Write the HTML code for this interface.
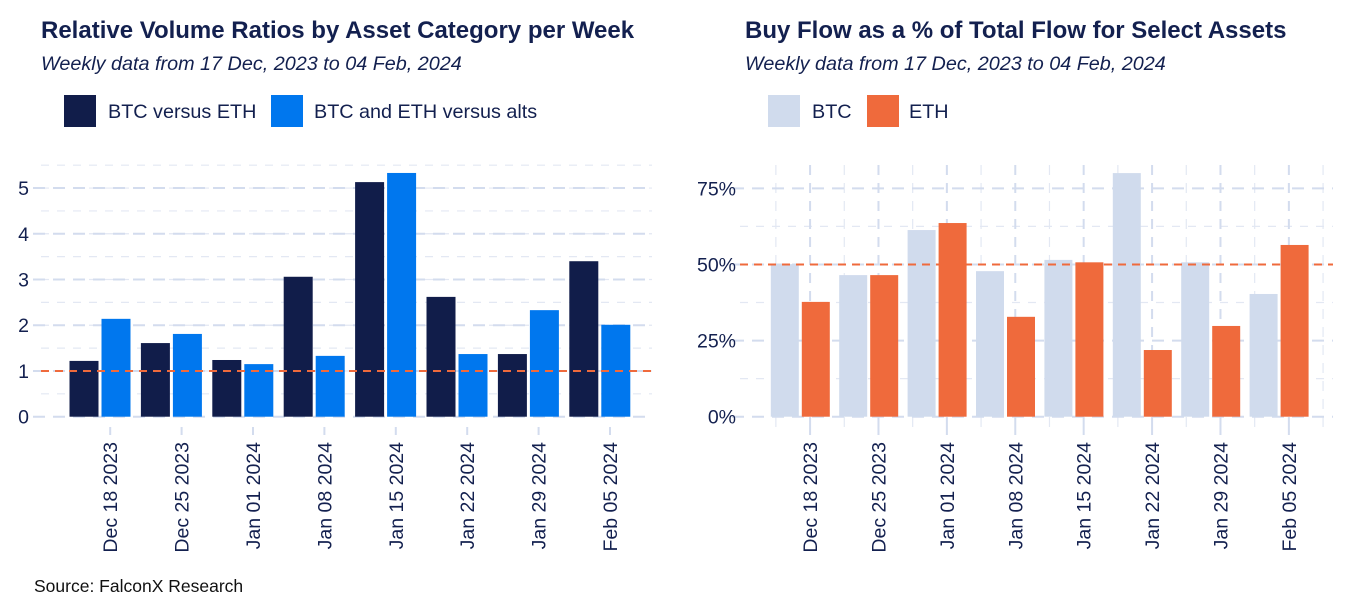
<!DOCTYPE html>
<html><head><meta charset="utf-8"><style>
html,body{margin:0;padding:0;background:#fff;}
svg{display:block;font-family:"Liberation Sans",Arial,sans-serif;}
</style></head><body>
<svg id="c" width="1350" height="600" viewBox="0 0 1350 600" xmlns="http://www.w3.org/2000/svg">
<text x="41" y="38" font-size="24" font-weight="bold" fill="#13204f">Relative Volume Ratios by Asset Category per Week</text>
<text x="41" y="70" font-size="19.8" font-style="italic" fill="#13204f">Weekly data from 17 Dec, 2023 to 04 Feb, 2024</text>
<rect x="64" y="95" width="32" height="32" fill="#111d4a"/>
<text x="108" y="118" font-size="19.8" fill="#13204f">BTC versus ETH</text>
<rect x="271" y="95" width="32" height="32" fill="#0077ee"/>
<text x="314" y="118" font-size="19.8" fill="#13204f">BTC and ETH versus alts</text>

<text x="745" y="38" font-size="24" font-weight="bold" fill="#13204f">Buy Flow as a % of Total Flow for Select Assets</text>
<text x="745" y="70" font-size="19.8" font-style="italic" fill="#13204f">Weekly data from 17 Dec, 2023 to 04 Feb, 2024</text>
<rect x="768" y="95" width="32" height="32" fill="#d0dbed"/>
<text x="812" y="118" font-size="19.8" fill="#13204f">BTC</text>
<rect x="867" y="95" width="32" height="32" fill="#ef6a3c"/>
<text x="909" y="118" font-size="19.8" fill="#13204f">ETH</text>

<text x="34" y="592" font-size="17.5" fill="#111">Source: FalconX Research</text>
<g id="left"></g>
<g id="right"></g>
</svg>
<script>
const tickLabels = ["Dec 18 2023","Dec 25 2023","Jan 01 2024","Jan 08 2024","Jan 15 2024","Jan 22 2024","Jan 29 2024","Feb 05 2024"];
const btcVsEth = [1.22,1.61,1.24,3.06,5.13,2.62,1.37,3.40];
const btcEthVsAlts = [2.14,1.81,1.15,1.33,5.33,1.37,2.33,2.01];
const leftTicks = [0,1,2,3,4,5];
const btcBuy = [50.1,46.5,61.3,47.8,51.5,80.0,50.7,40.3];
const ethBuy = [37.7,46.5,63.6,32.8,50.7,21.9,29.8,56.4];
const rightTicks = [0,25,50,75];

const NS="http://www.w3.org/2000/svg";
function mk(parent,tag,attrs){const e=document.createElementNS(NS,tag);for(const k in attrs)e.setAttribute(k,attrs[k]);parent.appendChild(e);return e;}

function drawChart(g,o){
  const y0=416.7;
  const y=v=>y0-v*o.ppu;
  const xc=i=>o.c0+i*o.step;
  for(let v=o.minor;v<=o.maxGrid;v+=o.major){
    const l=mk(g,'line',{x1:o.gx0,x2:o.gx1,y1:y(v),y2:y(v),stroke:'#e3e8f3','stroke-width':1.2,'stroke-dasharray':'8 8'});
    
    
  }
  if(o.vgrid){
    for(let i=0;i<8;i++){
      const xt=xc(i)+o.step/7;
      const l=mk(g,'line',{x1:xt,x2:xt,y1:165,y2:428,stroke:'#d3dcee','stroke-width':2,'stroke-dasharray':'10 8'});
      
      
      const m=xt-o.step/2;
      const l2=mk(g,'line',{x1:m,x2:m,y1:165,y2:428,stroke:'#e3e8f3','stroke-width':1.2,'stroke-dasharray':'10 8'});
      
      
    }
    const m=xc(8)+o.step/7-o.step/2;
    const l3=mk(g,'line',{x1:m,x2:m,y1:165,y2:428,stroke:'#e3e8f3','stroke-width':1.2,'stroke-dasharray':'10 8'});
    
    
  }
  o.ticks.forEach(v=>{
    const l=mk(g,'line',{x1:o.gx0-8,x2:o.gx1,y1:y(v),y2:y(v),stroke:'#d3dcee','stroke-width':2,'stroke-dasharray':'12 8'});
    
    
    const t=mk(g,'text',{x:o.labX,y:y(v)+7,'text-anchor':'end','font-size':19.5,fill:'#13204f'});
    t.textContent=o.fmt(v);
    
    
  });
  const bw=o.bw,gap=o.gap;
  for(let i=0;i<8;i++){
    const a=mk(g,'rect',{x:xc(i)-gap/2-bw,y:y(o.s1[i]),width:bw,height:y0-y(o.s1[i]),fill:o.c1});
    
    
    const b=mk(g,'rect',{x:xc(i)+gap/2,y:y(o.s2[i]),width:bw,height:y0-y(o.s2[i]),fill:o.c2});
    
    
    const xt=xc(i)+o.step/7;
    const tk=mk(g,'line',{x1:xt,x2:xt,y1:427,y2:435,stroke:'#d3dcee','stroke-width':2});
    
    
    const t=mk(g,'text',{x:0,y:0,'text-anchor':'end','font-size':19.5,fill:'#13204f',transform:`translate(${xt+7},442) rotate(-90)`});
    t.textContent=tickLabels[i];
    
    
  }
  const r=mk(g,'line',{x1:o.gx0,x2:o.gx1,y1:y(o.ref),y2:y(o.ref),stroke:'#ef6a3c','stroke-width':2,'stroke-dasharray':'8 6'});
  
  
}
drawChart(document.getElementById('left'),{ppu:45.73,c0:100,step:71.4,gx0:41,gx1:652,ticks:leftTicks,major:0.5,minor:0.5,maxGrid:5.5,labX:29,fmt:v=>String(v),s1:btcVsEth,s2:btcEthVsAlts,c1:'#111d4a',c2:'#0077ee',n1:'btc-vs-eth',n2:'btc-eth-vs-alts',bw:29,gap:3,ref:1,vgrid:false});
drawChart(document.getElementById('right'),{ppu:3.045,c0:800.3,step:68.4,gx0:740,gx1:1333,ticks:rightTicks,major:25,minor:12.5,maxGrid:70,labX:736,fmt:v=>v+'%',s1:btcBuy,s2:ethBuy,c1:'#d0dbed',c2:'#ef6a3c',n1:'btc-buy',n2:'eth-buy',bw:28,gap:3,ref:50,vgrid:true});
</script>
</body></html>
